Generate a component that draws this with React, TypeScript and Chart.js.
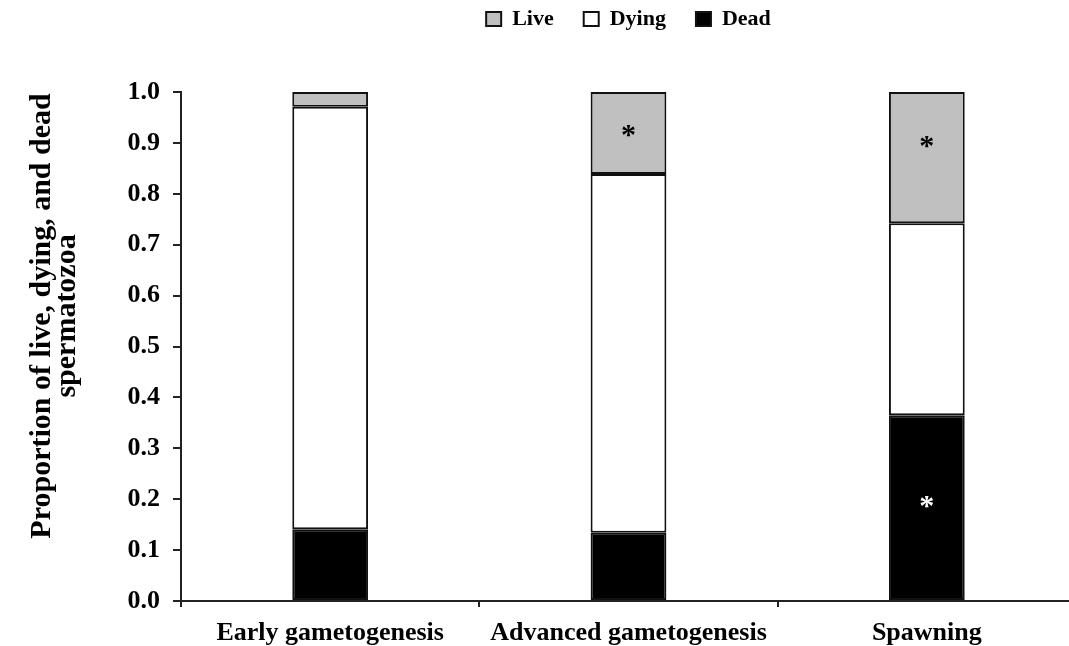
import React, { useEffect, useRef } from 'react';
import { Chart, registerables } from 'chart.js';

Chart.register(...registerables);

// ---- data ----
const categories = ['Early gametogenesis', 'Advanced gametogenesis', 'Spawning'];
const deadValues = [0.141, 0.134, 0.365];
const dyingValues = [0.83, 0.705, 0.377];
const liveValues = [0.029, 0.161, 0.258];
// significance asterisks (y position in data units, null = none)
const liveStars = [null, 0.923, 0.902];
const deadStars = [null, null, 0.195];
const yMin = 0;
const yMax = 1;
const yStep = 0.1;
const yAxisTitle = ['Proportion of live, dying, and dead', 'spermatozoa'];

const FONT = '"Liberation Serif", "Times New Roman", Times, serif';
const OFFSET = -22; // canvas shifted up so the legend sits near the top edge
const PLOT_TOP = 92; // page y of the top of the plot area

const legendHeightPlugin = {
  id: 'legendHeight',
  beforeInit(chart: any) {
    const lg = chart.legend;
    if (!lg || lg.__patched) return;
    const orig = lg.fit.bind(lg);
    lg.fit = function () {
      orig();
      this.height = PLOT_TOP - OFFSET;
    };
    lg.__patched = true;
  },
};

const starPlugin = {
  id: 'stars',
  afterDatasetsDraw(chart: any) {
    const ctx = chart.ctx;
    const yScale = chart.scales.y;
    chart.data.datasets.forEach((ds: any, di: number) => {
      if (!ds.stars) return;
      const meta = chart.getDatasetMeta(di);
      ds.stars.forEach((v: number | null, i: number) => {
        if (v === null || v === undefined) return;
        const bar = meta.data[i];
        const y = yScale.getPixelForValue(v);
        ctx.save();
        ctx.font = `bold 30px ${FONT}`;
        ctx.fillStyle = ds.starColor;
        ctx.textAlign = 'center';
        ctx.textBaseline = 'alphabetic';
        const m = ctx.measureText('*');
        const off = (m.actualBoundingBoxAscent - m.actualBoundingBoxDescent) / 2;
        ctx.fillText('*', bar.x, y + off);
        ctx.restore();
      });
    });
  },
};

const yTitlePlugin = {
  id: 'yTitle',
  afterDraw(chart: any) {
    const ctx = chart.ctx;
    const area = chart.chartArea;
    const cy = area.top + (area.bottom - area.top) * 0.44;
    const size = 30;
    const lineGap = 25;
    ctx.save();
    ctx.font = `bold ${size}px ${FONT}`;
    ctx.fillStyle = '#000';
    ctx.textAlign = 'center';
    ctx.textBaseline = 'middle';
    yAxisTitle.forEach((line, i) => {
      ctx.save();
      ctx.translate(42 + i * lineGap, cy);
      ctx.rotate(-Math.PI / 2);
      ctx.fillText(line, 0, 0);
      ctx.restore();
    });
    ctx.restore();
  },
};

export default function App() {
  const canvasRef = useRef<HTMLCanvasElement | null>(null);

  useEffect(() => {
    if (!canvasRef.current) return;
    const common = {
      borderColor: '#111',
      borderWidth: 2,
      borderSkipped: false as const,
      barPercentage: 0.254,
      categoryPercentage: 1.0,
    };
    const chart = new Chart(canvasRef.current, {
      type: 'bar',
      data: {
        labels: categories,
        datasets: [
          { label: 'Dead', data: deadValues, backgroundColor: '#000000', stars: deadStars, starColor: '#ffffff', ...common } as any,
          { label: 'Dying', data: dyingValues, backgroundColor: '#ffffff', ...common } as any,
          { label: 'Live', data: liveValues, backgroundColor: '#c0c0c0', stars: liveStars, starColor: '#000000', ...common } as any,
        ],
      },
      options: {
        responsive: true,
        maintainAspectRatio: false,
        animation: false,
        layout: { padding: 0 },
        plugins: {
          tooltip: { enabled: false },
          legend: {
            position: 'top',
            fullSize: false,
            reverse: true,
            labels: {
              boxWidth: 15,
              boxHeight: 14,
              padding: 30,
              color: '#000',
              font: { family: FONT, size: 22, weight: 'bold' },
            },
          },
        },
        scales: {
          x: {
            stacked: true,
            offset: true,
            grid: {
              offset: true,
              drawOnChartArea: false,
              drawTicks: true,
              tickLength: 6,
              color: '#222',
              lineWidth: 2,
            },
            border: { display: true, color: '#222', width: 2 },
            ticks: {
              color: '#000',
              padding: 11,
              font: { family: FONT, size: 26, weight: 'bold' },
            },
            afterFit: (s: any) => {
              s.height = 45;
            },
          },
          y: {
            stacked: true,
            min: yMin,
            max: yMax,
            grid: {
              drawOnChartArea: false,
              drawTicks: true,
              tickLength: 8,
              color: '#222',
              lineWidth: 2,
            },
            border: { display: true, color: '#222', width: 2 },
            ticks: {
              stepSize: yStep,
              color: '#000',
              padding: 13,
              font: { family: FONT, size: 26, weight: 'bold' },
              callback: (v: any) => Number(v).toFixed(1),
            },
            afterFit: (s: any) => {
              s.width = 181;
            },
          },
        },
      },
      plugins: [legendHeightPlugin, starPlugin, yTitlePlugin],
    });
    return () => chart.destroy();
  }, []);

  return (
    <div
      style={{
        position: 'fixed',
        left: 0,
        top: 0,
        width: 1069,
        height: 646,
        overflow: 'hidden',
        background: '#fff',
      }}
    >
      <div style={{ position: 'absolute', left: 0, top: OFFSET, width: 1076, height: 646 - OFFSET }}>
        <canvas ref={canvasRef} />
      </div>
    </div>
  );
}
